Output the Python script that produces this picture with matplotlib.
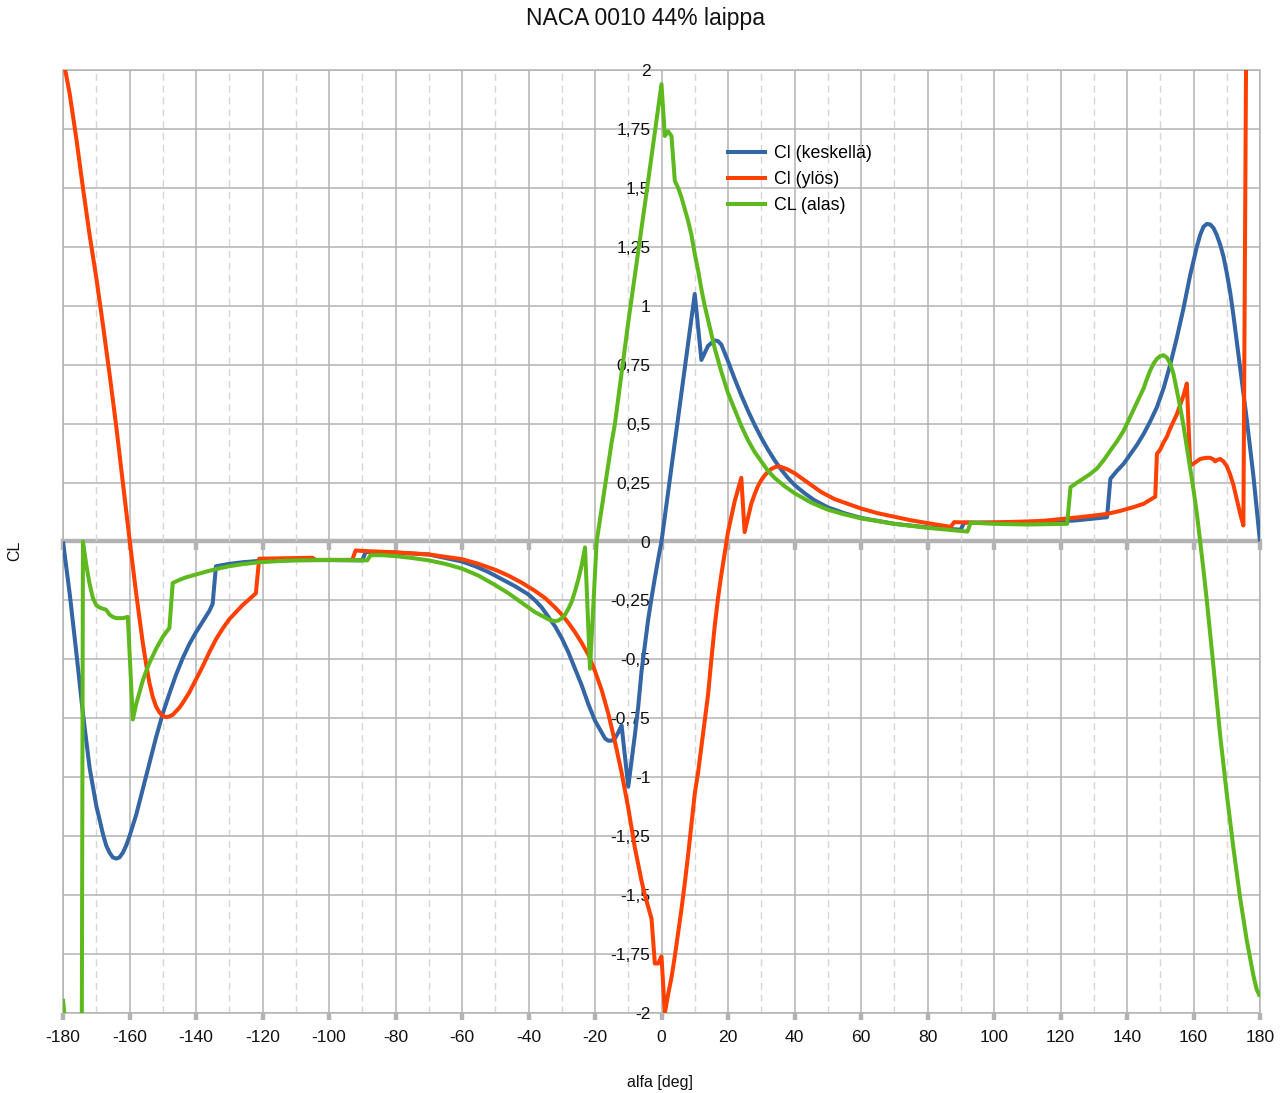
import matplotlib

matplotlib.use("Agg")
import matplotlib.pyplot as plt
from matplotlib.ticker import FuncFormatter, MultipleLocator, NullFormatter

# ── Data ────────────────────────────────────────────────────────────────────
alfa_keskella = [
    -180, -178, -176, -174, -172, -170, -168, -167, -166, -165, -164, -163,
    -162, -161, -160, -158, -156, -154, -152, -150, -148, -146, -144, -142,
    -140, -138, -136, -135, -134, -130, -126, -120, -110, -100, -90, -89,
    -80, -70, -60, -56, -52, -48, -44, -40, -38, -36, -34, -32, -30, -28,
    -26, -24, -22, -20, -18, -17, -16, -15, -14, -13, -12, -10, -9, -8, -7,
    -6, -5, -4, -3, -2, -1, 0, 2, 4, 6, 8, 10, 12, 14, 16, 17, 18, 19, 20,
    22, 24, 26, 28, 30, 32, 34, 36, 38, 40, 43, 46, 50, 55, 60, 70, 80, 90,
    91, 100, 110, 117, 125, 134, 135, 137, 139, 141, 143, 145, 147, 149,
    151, 153, 155, 157, 159, 160, 161, 162, 163, 164, 165, 166, 167, 168,
    169, 170, 171, 172, 173, 174, 175, 176, 177, 178, 179, 180,
]
cl_keskella = [
    0.0, -0.22, -0.47, -0.73, -0.96, -1.12, -1.24, -1.29, -1.32, -1.34,
    -1.345, -1.34, -1.32, -1.29, -1.25, -1.16, -1.05, -0.94, -0.83, -0.73,
    -0.645, -0.565, -0.495, -0.435, -0.385, -0.34, -0.295, -0.265, -0.105,
    -0.095, -0.088, -0.081, -0.079, -0.079, -0.08, -0.045, -0.047, -0.055,
    -0.085, -0.105, -0.13, -0.16, -0.19, -0.225, -0.25, -0.28, -0.32, -0.36,
    -0.41, -0.47, -0.54, -0.61, -0.69, -0.76, -0.81, -0.835, -0.845, -0.845,
    -0.835, -0.81, -0.78, -1.04, -0.93, -0.82, -0.7, -0.55, -0.44, -0.33,
    -0.24, -0.155, -0.075, 0.0, 0.21, 0.42, 0.63, 0.84, 1.05, 0.77, 0.83,
    0.853, 0.85, 0.835, 0.8, 0.765, 0.69, 0.62, 0.555, 0.495, 0.44, 0.39,
    0.345, 0.305, 0.27, 0.24, 0.205, 0.175, 0.145, 0.12, 0.1, 0.075, 0.06,
    0.05, 0.08, 0.08, 0.08, 0.082, 0.09, 0.103, 0.266, 0.3, 0.33, 0.37,
    0.41, 0.456, 0.51, 0.57, 0.65, 0.75, 0.865, 0.99, 1.13, 1.19, 1.25, 1.3,
    1.335, 1.347, 1.345, 1.33, 1.3, 1.26, 1.21, 1.14, 1.06, 0.96, 0.85,
    0.74, 0.63, 0.52, 0.4, 0.28, 0.14, 0.0,
]

alfa_ylos = [
    -180, -178, -176, -174, -172, -170, -168, -166, -164, -162, -160, -158,
    -156, -155, -154, -153, -152, -151, -150, -149, -148, -147, -146, -145,
    -144, -142, -140, -138, -136, -134, -132, -130, -128, -126, -124, -122,
    -121, -110, -105, -104, -93, -92, -90, -80, -70, -60, -55, -50, -46,
    -42, -38, -35, -32, -30, -28, -26, -24, -22, -20, -18, -16, -14, -12,
    -10, -8, -6, -5, -4, -3, -2, -1, 0, 1, 2, 3, 4, 5, 6, 7, 8, 9, 10, 11,
    12, 13, 14, 15, 16, 17, 18, 19, 20, 22, 24, 25, 26, 27, 28, 29, 30, 31,
    32, 33, 34, 35, 36, 38, 40, 42, 45, 48, 52, 56, 60, 65, 70, 75, 80, 87,
    88, 95, 100, 105, 110, 115, 120, 125, 130, 134, 138, 142, 145, 148.5,
    149, 150, 151, 152, 153, 154, 155, 156, 157, 158, 159, 160, 161, 162,
    163, 164, 165, 166, 166.5, 167, 168, 169, 170, 171, 172, 173, 174, 175,
    176, 180,
]
cl_ylos = [
    2.05, 1.9, 1.71, 1.5, 1.3, 1.12, 0.92, 0.71, 0.49, 0.25, 0.01, -0.22,
    -0.43, -0.52, -0.6, -0.66, -0.7, -0.725, -0.74, -0.745, -0.742, -0.735,
    -0.72, -0.705, -0.685, -0.64, -0.585, -0.53, -0.47, -0.415, -0.37,
    -0.33, -0.3, -0.27, -0.245, -0.22, -0.073, -0.07, -0.069, -0.078,
    -0.078, -0.038, -0.04, -0.046, -0.055, -0.075, -0.095, -0.12, -0.145,
    -0.175, -0.21, -0.24, -0.28, -0.31, -0.345, -0.385, -0.43, -0.48,
    -0.55, -0.63, -0.73, -0.85, -0.98, -1.13, -1.3, -1.44, -1.5, -1.55,
    -1.6, -1.79, -1.79, -1.76, -2.0, -1.92, -1.85, -1.76, -1.66, -1.56,
    -1.45, -1.33, -1.2, -1.07, -0.98, -0.87, -0.76, -0.65, -0.5, -0.36,
    -0.24, -0.14, -0.05, 0.04, 0.17, 0.27, 0.04, 0.1, 0.16, 0.2, 0.235,
    0.26, 0.28, 0.295, 0.307, 0.315, 0.318, 0.316, 0.305, 0.29, 0.27, 0.24,
    0.21, 0.18, 0.16, 0.14, 0.12, 0.105, 0.09, 0.078, 0.062, 0.082, 0.08,
    0.081, 0.083, 0.085, 0.088, 0.095, 0.102, 0.11, 0.117, 0.13, 0.146,
    0.16, 0.19, 0.372, 0.39, 0.42, 0.445, 0.48, 0.51, 0.54, 0.58, 0.62,
    0.67, 0.322, 0.33, 0.34, 0.35, 0.353, 0.355, 0.355, 0.348, 0.34, 0.345,
    0.35, 0.34, 0.32, 0.285, 0.24, 0.18, 0.12, 0.068, 2.5, 4.0,
]

alfa_alas = [
    -180, -179, -176, -175, -174, -173, -172, -171, -170, -169, -168, -167,
    -166, -165, -164, -162, -160.5, -159, -158, -157, -156, -155, -154,
    -153, -152, -151, -150, -149, -148, -147, -145, -143, -140, -137, -134,
    -130, -126, -121, -115, -110, -100, -88.5, -87.5, -84, -80, -75, -70,
    -65, -60, -55, -50, -46, -42, -40, -38, -36, -34, -33, -32, -31, -30,
    -29, -28, -27, -26, -25, -24, -23, -21.5, -19.5, -15, -14, -10, -5, 0,
    1, 2, 3, 4, 5, 6, 7, 8, 9, 10, 11, 12, 13, 14, 15, 16, 17, 18, 19, 20,
    22, 24, 26, 28, 30, 32, 34, 37, 40, 45, 50, 55, 60, 70, 80, 92, 93, 100,
    110, 122, 123, 125, 127, 129, 131, 133, 135, 137, 139, 141, 143, 145,
    146, 147, 148, 149, 150, 151, 152, 153, 154, 155, 156, 157, 158, 159,
    160, 161, 162, 163, 164, 166, 168, 170, 172, 174, 176, 178, 179, 180,
]
cl_alas = [
    -1.94, -2.1, -3.0, -6.0, 0.0, -0.1, -0.18, -0.24, -0.27, -0.28, -0.285,
    -0.29, -0.31, -0.32, -0.325, -0.325, -0.32, -0.755, -0.69, -0.64, -0.59,
    -0.55, -0.515, -0.485, -0.455, -0.43, -0.405, -0.385, -0.367, -0.176,
    -0.163, -0.152, -0.14, -0.128, -0.117, -0.105, -0.096, -0.088, -0.083,
    -0.08, -0.078, -0.08, -0.058, -0.058, -0.062, -0.07, -0.08, -0.095,
    -0.115, -0.145, -0.185, -0.22, -0.26, -0.28, -0.3, -0.315, -0.33,
    -0.335, -0.338, -0.335, -0.325, -0.31, -0.285, -0.255, -0.21, -0.16,
    -0.1, -0.025, -0.54, 0.0, 0.42, 0.5, 0.93, 1.43, 1.94, 1.72, 1.74, 1.72,
    1.53, 1.5, 1.46, 1.41, 1.36, 1.3, 1.22, 1.15, 1.07, 1.0, 0.94, 0.88,
    0.82, 0.77, 0.72, 0.675, 0.63, 0.56, 0.49, 0.43, 0.38, 0.34, 0.3, 0.27,
    0.235, 0.205, 0.165, 0.135, 0.115, 0.098, 0.075, 0.058, 0.042, 0.08,
    0.075, 0.072, 0.075, 0.23, 0.25, 0.268, 0.287, 0.31, 0.345, 0.386,
    0.425, 0.47, 0.53, 0.59, 0.65, 0.69, 0.726, 0.755, 0.775, 0.787, 0.79,
    0.78, 0.755, 0.71, 0.64, 0.57, 0.49, 0.4, 0.31, 0.22, 0.12, 0.0, -0.12,
    -0.25, -0.53, -0.82, -1.07, -1.3, -1.51, -1.69, -1.84, -1.9, -1.93,
]

series_labels = ["Cl (keskellä)", "Cl (ylös)", "CL (alas)"]
series_colors = ["#3465a4", "#ff4000", "#5eb91e"]

# ── Figure ──────────────────────────────────────────────────────────────────
plt.rcParams["font.family"] = ["Liberation Sans", "DejaVu Sans"]
GRID = "#b3b3b3"
W, H = 1285, 1093

fig = plt.figure(figsize=(W / 100, H / 100), dpi=100)
ax = fig.add_axes([63 / W, 1 - 1013 / H, 1197 / W, 943 / H])

for xs, ys, lab, col in zip(
    [alfa_keskella, alfa_ylos, alfa_alas],
    [cl_keskella, cl_ylos, cl_alas],
    series_labels,
    series_colors,
):
    ax.plot(xs, ys, color=col, linewidth=2.9, label=lab, zorder=3,
            solid_joinstyle="round", solid_capstyle="butt")

ax.set_xlim(-180, 180)
ax.set_ylim(-2, 2)

ax.xaxis.set_major_locator(MultipleLocator(20))
ax.xaxis.set_minor_locator(MultipleLocator(10))
ax.yaxis.set_major_locator(MultipleLocator(0.25))


def _fmt(v, _pos):
    if abs(v) < 1e-9:
        return "0"
    return f"{v:g}".replace(".", ",")


ax.xaxis.set_major_formatter(FuncFormatter(_fmt))
ax.yaxis.set_major_formatter(FuncFormatter(_fmt))

ax.set_axisbelow(True)
ax.grid(which="major", color=GRID, linewidth=1.1)
ax.grid(which="minor", axis="x", color="#d6d6d6", linewidth=1.0,
        linestyle=(0, (5, 3.5)))

# frame from the axes patch, spines hidden
for sp in ax.spines.values():
    sp.set_visible(False)
ax.patch.set_edgecolor(GRID)
ax.patch.set_linewidth(1.1)

# y labels sit next to the x = 0 line
ax.spines["left"].set_position(("data", 0))
ax.tick_params(axis="y", length=0, pad=8, labelsize=12.6, labelcolor="#111111")
ax.tick_params(axis="x", which="major", direction="out", length=5, width=3.2,
               color=GRID, pad=7, labelsize=12.6, labelcolor="#111111")
ax.tick_params(axis="x", which="minor", length=0)

# thick zero line with its tick marks
secax = ax.secondary_xaxis(0.5)
secax.xaxis.set_ticks_position("bottom")
secax.xaxis.set_major_locator(MultipleLocator(20))
secax.xaxis.set_major_formatter(NullFormatter())
secax.tick_params(axis="x", which="both", direction="out", length=5.5,
                  width=3.2, color=GRID, labelbottom=False, labeltop=False)
secax.tick_params(axis="x", which="minor", length=0)
for side in ("top", "bottom"):
    secax.spines[side].set_color(GRID)
    secax.spines[side].set_linewidth(3.2)

ax.legend(
    loc="upper left",
    bbox_to_anchor=(726 / W, 1 - 145 / H),
    bbox_transform=fig.transFigure,
    frameon=False,
    fontsize=12.8,
    handlelength=2.3,
    handletextpad=0.4,
    labelspacing=0.52,
    borderpad=0,
    borderaxespad=0,
)

fig.text(645 / W, 1 - 19 / H, "NACA 0010 44% laippa", ha="center",
         va="center", fontsize=16.5, color="#111111")
fig.text(660 / W, 1 - 1082 / H, "alfa [deg]", ha="center", va="center",
         fontsize=11.5, color="#111111")
fig.text(15 / W, 1 - 551 / H, "CL", ha="center", va="center", rotation=90,
         fontsize=11.5, color="#111111")

fig.savefig("out.png", dpi=100)
plt.close(fig)
